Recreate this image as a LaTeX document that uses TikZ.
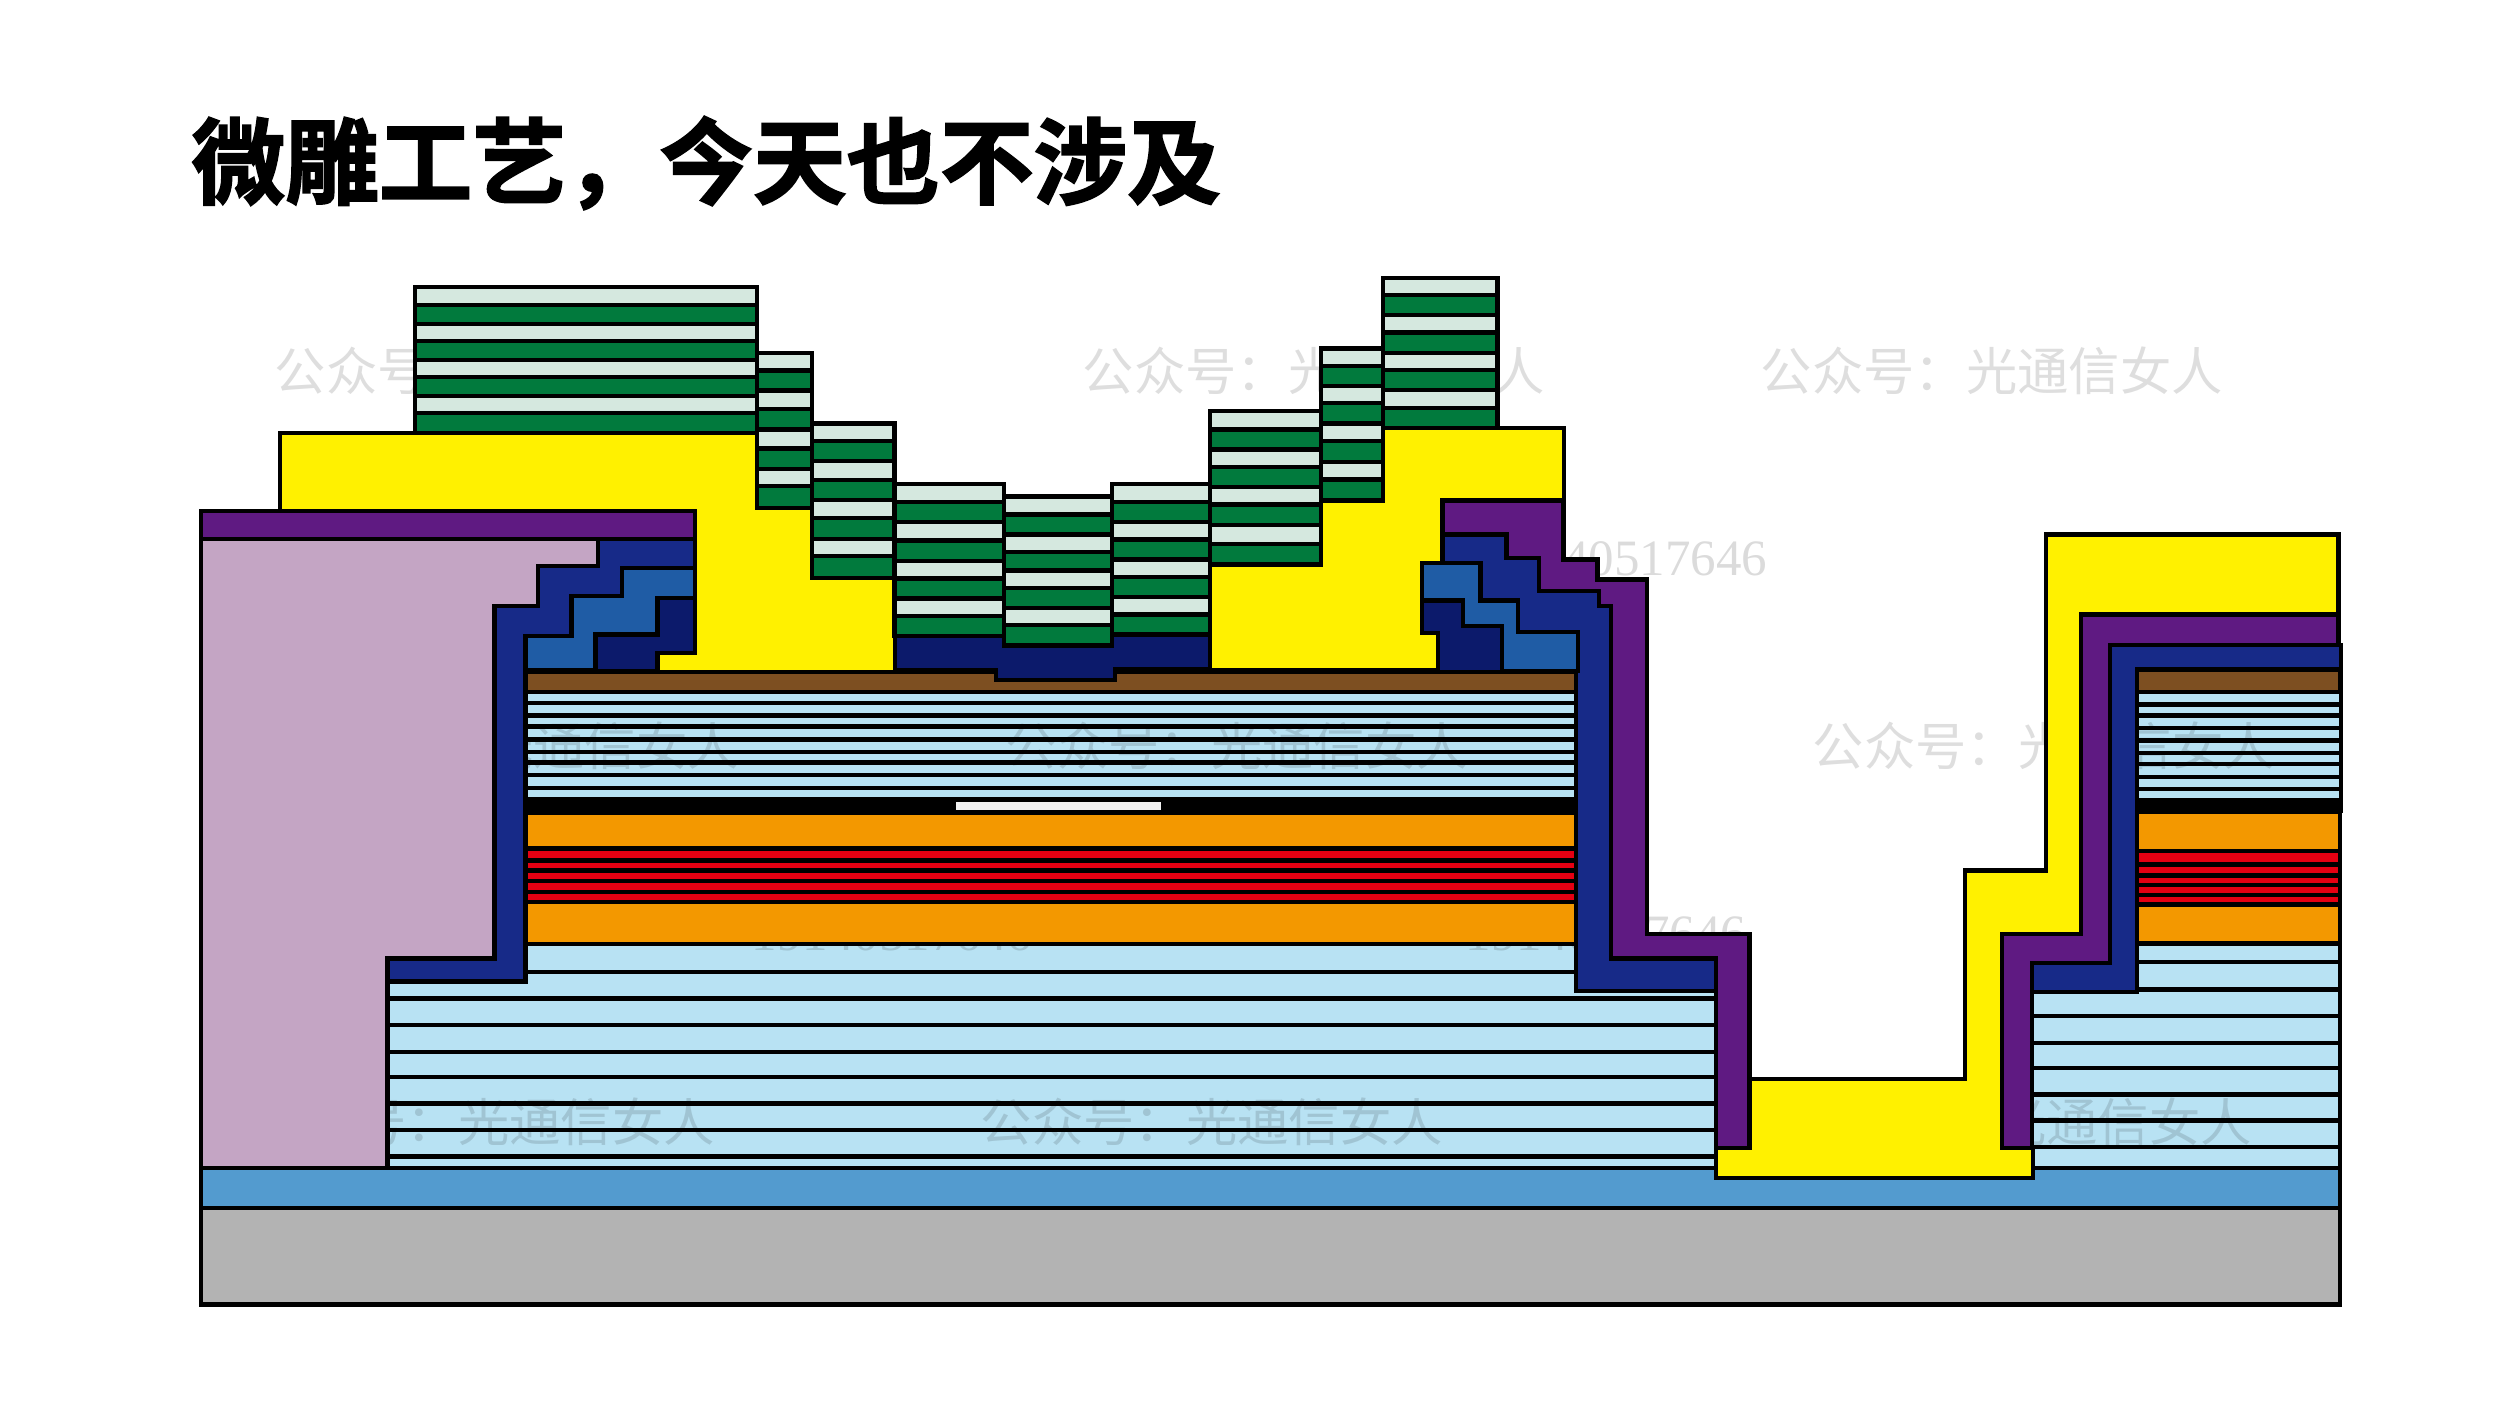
\documentclass[tikz,border=0pt]{standalone}
\usepackage{fontspec}
\setmainfont{Liberation Serif}
\newfontfamily\cjk{Noto Sans CJK SC}
\newfontfamily\cjktitle[FakeBold=2]{Noto Sans CJK SC Bold}
\definecolor{lg}{HTML}{D5E8DF}
\definecolor{gg}{HTML}{017A3D}
\definecolor{yy}{HTML}{FFF100}
\definecolor{pu}{HTML}{5F1A82}
\definecolor{li}{HTML}{C4A5C4}
\definecolor{nv}{HTML}{172A88}
\definecolor{mb}{HTML}{1F5CA5}
\definecolor{dn}{HTML}{0C1A6B}
\definecolor{br}{HTML}{7D4F21}
\definecolor{lb}{HTML}{B8E2F3}
\definecolor{og}{HTML}{F39800}
\definecolor{rd}{HTML}{E60012}
\definecolor{bl}{HTML}{539BCF}
\definecolor{gy}{HTML}{B3B3B3}
\tikzset{
  ln/.style={draw=black,line width=0.044cm,miter limit=10},
  wmk/.style={anchor=west,inner sep=0pt,text=black,text opacity=0.13,font=\cjk\fontsize{14.6}{14.6}\selectfont},
  wmd/.style={anchor=east,inner sep=0pt,text=black,text opacity=0.14,font=\fontsize{14.5}{14.5}\selectfont},
  titlenode/.style={anchor=west,inner sep=0pt,font=\cjktitle\fontsize{26.6}{26.6}\selectfont}
}
\newcommand{\greenstack}[4]{%
  \foreach \yb [count=\ii, remember=\yb as \ya (initially #3)] in {#4}{%
    \ifodd\ii\def\mycol{lg}\else\def\mycol{gg}\fi
    \path[ln,fill=\mycol] (#1,\ya) rectangle (#2,\yb);
  }}
\newcommand{\hlines}[3]{\foreach \yy in {#3}{\draw[ln] (#1,\yy) -- (#2,\yy);}}
\begin{document}
\begin{tikzpicture}[x=0.01cm,y=-0.01cm]
\useasboundingbox (0,0) rectangle (2500,1406);
\fill[white] (0,0) rectangle (2500,1406);
\begin{scope}[yshift=-0.012cm]
% light-blue fills sit beneath the watermark
\fill[lb] (526,691) rectangle (1576,798);
\fill[lb] (526,943) rectangle (1576,980);
\fill[lb] (387.6,970) rectangle (1716,1167);
\fill[lb] (2136.7,691) rectangle (2340,798);
\fill[lb] (2136.7,943) rectangle (2340,990);
\fill[lb] (2032.7,985) rectangle (2340,1167);
% watermark
\node[wmk] (w1) at (274,370) {公众号：光通信女人};
\node[wmk] (w2) at (1082,370) {公众号：光通信女人};
\node[wmk] (w3) at (1760,370) {公众号：光通信女人};
\node[wmk] (w4) at (276,745) {公众号：光通信女人};
\node[wmk] (w5) at (1005,745) {公众号：光通信女人};
\node[wmk] (w6) at (1812,745) {公众号：光通信女人};
\node[wmk] (w7) at (252,1121) {公众号：光通信女人};
\node[wmk] (w8) at (980,1121) {公众号：光通信女人};
\node[wmk] (w9) at (1789,1121) {公众号：光通信女人};
\node[wmd] (d1) at (1768,558) {40517646};
\node[wmd] (d2) at (1033,933) {19140517646};
\node[wmd] (d3) at (1747,933) {19140517646};
% substrate and lower mirror
\path[ln,fill=gy] (201,1206.7) rectangle (2340,1303.3);
\path[ln,fill=bl] (201,1167) rectangle (2340,1206.7);
\hlines{387.6}{1716}{997.3,1024,1050.7,1075.7,1102.3,1129,1155.3}
\draw[ln] (526,970.7) -- (1576,970.7);
\draw[ln] (387.6,980) -- (387.6,1167);
\hlines{2032.7}{2340}{988.3,1015,1041.7,1066.7,1093.3,1119.3,1146}
\draw[ln] (2136.7,960.5) -- (2340,960.5);
\draw[ln] (2340,940) -- (2340,1167);
% main mesa
\hlines{526}{1576}{701.7,714.3,725.3,738.3,750.7,761.3,774,786.7}
\fill[black] (526,795.5) rectangle (1576,813);
\path[ln,fill=og] (526,811.5) rectangle (1576,847.3);
\path[ln,fill=rd] (526,847.3) rectangle (1576,859.3);
\path[ln,fill=rd] (526,859.3) rectangle (1576,869.3);
\path[ln,fill=rd] (526,869.3) rectangle (1576,880);
\path[ln,fill=rd] (526,880) rectangle (1576,890.7);
\path[ln,fill=rd] (526,890.7) rectangle (1576,900.7);
\path[ln,fill=og] (526,900.7) rectangle (1576,942.7);
\fill[white!95!black] (955.9,800.5) rectangle (1161,808.5);
\path[ln,fill=br] (526,670.7) rectangle (1576,690.7);
% right mesa
\hlines{2136.7}{2340}{703.3,714.3,726.7,739.3,751.7,762.7,775.7,787.7}
\fill[black] (2136.7,796.5) rectangle (2342,812);
\path[ln,fill=og] (2136.7,811) rectangle (2340,850);
\path[ln,fill=rd] (2136.7,850) rectangle (2340,863.3);
\path[ln,fill=rd] (2136.7,863.3) rectangle (2340,874.3);
\path[ln,fill=rd] (2136.7,874.3) rectangle (2340,884);
\path[ln,fill=rd] (2136.7,884) rectangle (2340,894);
\path[ln,fill=rd] (2136.7,894) rectangle (2340,903.3);
\path[ln,fill=og] (2136.7,903.3) rectangle (2340,942.3);
\path[ln,fill=br] (2136.7,668.3) rectangle (2340,690.7);
% yellow bodies
\path[ln,fill=yy] (280,432) -- (757,432) -- (757,507) -- (812,507) -- (812,577) -- (894.7,577) -- (894.7,671) -- (657.5,671) -- (657.5,652) -- (695,652) -- (695,510) -- (280,510) -- cycle;
\path[ln,fill=yy] (1382.8,426.7) -- (1564,426.7) -- (1564,500) -- (1442.4,500) -- (1442.4,562) -- (1421.8,562) -- (1421.8,632) -- (1437.8,632) -- (1437.8,669) -- (1209.7,669) -- (1209.7,563.3) -- (1320.8,563.3) -- (1320.8,499.3) -- (1382.8,499.3) -- cycle;
\path[ln,fill=yy] (1750,1077.7) -- (1964.8,1077.7) -- (1964.8,869.3) -- (2045.7,869.3) -- (2045.7,533.3) -- (2338.5,533.3) -- (2338.5,613.3) -- (2081,613.3) -- (2081,932.7) -- (2001.7,932.7) -- (2001.7,1146.7) -- (2032.7,1146.7) -- (2032.7,1176.7) -- (1715.7,1176.7) -- (1715.7,1146.7) -- (1750,1146.7) -- cycle;
% left contact
\path[ln,fill=li] (201,537.7) -- (597.8,537.7) -- (597.8,565) -- (538,565) -- (538,605) -- (494.6,605) -- (494.6,957.3) -- (387.6,957.3) -- (387.6,1167) -- (201,1167) -- cycle;
\path[ln,fill=pu] (201,510) rectangle (695,537.7);
\path[ln,fill=nv] (597.8,537.7) -- (695,537.7) -- (695,567) -- (621.7,567) -- (621.7,595) -- (571.6,595) -- (571.6,635) -- (525.3,635) -- (525.3,980.3) -- (387.6,980.3) -- (387.6,957.3) -- (494.6,957.3) -- (494.6,605) -- (538,605) -- (538,565) -- (597.8,565) -- cycle;
\path[ln,fill=mb] (621.7,567) -- (695,567) -- (695,597) -- (657.5,597) -- (657.5,633.3) -- (595.5,633.3) -- (595.5,669.3) -- (525.3,669.3) -- (525.3,635) -- (571.6,635) -- (571.6,595) -- (621.7,595) -- cycle;
\path[ln,fill=dn] (657.5,597) -- (695,597) -- (695,652) -- (657.5,652) -- (657.5,670) -- (595.5,670) -- (595.5,633.3) -- (657.5,633.3) -- cycle;
% ridge
\path[ln,fill=dn] (894.7,635) -- (1004,635) -- (1004,644.3) -- (1112,644.3) -- (1112,633.3) -- (1209.7,633.3) -- (1209.7,667.5) -- (1115,667.5) -- (1115,678.5) -- (996,678.5) -- (996,669) -- (894.7,669) -- cycle;
\greenstack{415}{757}{286}{304,322.7,340,358.7,375.7,395,411.7,432}
\greenstack{757}{812}{352}{369.3,389.3,408,428.3,447.3,468,485,507}
\greenstack{812}{894.6}{422.3}{440,460,478.7,498.7,516.7,537.7,555,577}
\greenstack{894.6}{1004}{482.7}{500.7,520.7,539.3,560,577.3,597.3,615,635}
\greenstack{1004}{1112}{495.3}{513.3,533.3,550.7,569.3,586.7,606.7,624,644.3}
\greenstack{1112}{1209.7}{482.7}{500.7,520.7,538.3,558.3,575.7,595.7,613.3,633.3}
\greenstack{1209.7}{1320.8}{409.7}{428.3,448.3,466,486,503.3,524,542.7,563.3}
\greenstack{1320.8}{1382.8}{347.3}{365,384.7,402,422.3,440,461,478.3,499.3}
\greenstack{1382.8}{1497.5}{276.7}{294,314,331.3,351.7,369,389,406.7,426.7}
% right side of the main mesa
\path[ln,fill=pu] (1442.4,499.3) -- (1563.3,499.3) -- (1563.3,558.3) -- (1597.3,558.3) -- (1597.3,578.3) -- (1646.7,578.3) -- (1646.7,932.7) -- (1749.3,932.7) -- (1749.3,1146.7) -- (1715.7,1146.7) -- (1715.7,957.3) -- (1611,957.3) -- (1611,605) -- (1599,605) -- (1599,590) -- (1539,590) -- (1539,557) -- (1506.5,557) -- (1506.5,533.3) -- (1442.4,533.3) -- cycle;
\path[ln,fill=nv] (1442.4,533.3) -- (1506.5,533.3) -- (1506.5,557) -- (1539,557) -- (1539,590) -- (1599,590) -- (1599,605) -- (1611,605) -- (1611,957.3) -- (1715.7,957.3) -- (1715.7,990) -- (1576,990) -- (1576,670) -- (1442.4,670) -- cycle;
\path[ln,fill=mb] (1421.8,561.7) -- (1480.5,561.7) -- (1480.5,599.3) -- (1518.2,599.3) -- (1518.2,630.7) -- (1577.7,630.7) -- (1577.7,670) -- (1502,670) -- (1502,625) -- (1463,625) -- (1463,599.3) -- (1421.8,599.3) -- cycle;
\path[ln,fill=dn] (1421.8,599.3) -- (1463,599.3) -- (1463,625) -- (1502,625) -- (1502,671) -- (1437.8,671) -- (1437.8,632) -- (1421.8,632) -- cycle;
% right wall
\path[ln,fill=pu] (2081,613.3) -- (2338.5,613.3) -- (2338.5,644) -- (2110,644) -- (2110,961.7) -- (2031.7,961.7) -- (2031.7,1146.7) -- (2001.7,1146.7) -- (2001.7,932.7) -- (2081,932.7) -- cycle;
\path[ln,fill=nv] (2110,644) -- (2341,644) -- (2341,668.3) -- (2136.7,668.3) -- (2136.7,990.7) -- (2031.7,990.7) -- (2031.7,961.7) -- (2110,961.7) -- cycle;
\draw[ln] (2341,668) -- (2341,812);
\end{scope}
% title
\node[titlenode] (title) at (191,163) {微雕工艺，今天也不涉及};
\end{tikzpicture}
\end{document}
